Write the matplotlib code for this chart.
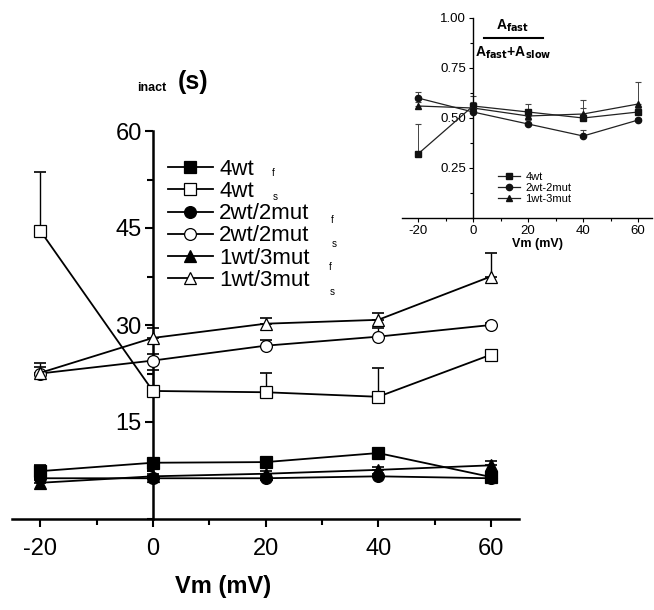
import numpy as np
from matplotlib import pyplot as plt
from matplotlib.ticker import MultipleLocator

plt.rcParams['font.family'] = ['Liberation Sans Narrow', 'Liberation Sans', 'DejaVu Sans']
plt.rcParams['axes.unicode_minus'] = False

# main panel: inactivation time constants
vm = [-20, 0, 20, 40, 60]
wt4_fast = [7.4, 8.7, 8.8, 10.2, 6.5]
wt4_fast_err = [1.0, 0.5, 0.4, 0.4, 0.3]
wt4_slow = [44.6, 19.8, 19.6, 18.9, 25.4]
wt4_slow_err = [9.0, 3.2, 3.0, 4.5, 0.6]
mut2_fast = [6.3, 6.3, 6.3, 6.6, 6.3]
mut2_fast_err = [0.3, 0.3, 0.3, 0.3, 0.3]
mut2_slow = [22.5, 24.5, 26.8, 28.2, 30.0]
mut2_slow_err = [1.0, 1.0, 0.9, 1.4, 0.3]
mut3_fast = [5.6, 6.6, 7.0, 7.6, 8.3]
mut3_fast_err = [0.4, 0.4, 0.4, 0.5, 0.6]
mut3_slow = [22.6, 28.0, 30.2, 30.8, 37.5]
mut3_slow_err = [1.5, 1.6, 0.9, 1.1, 3.7]
main_labels = ['4wt', '4wt', '2wt/2mut', '2wt/2mut', '1wt/3mut', '1wt/3mut']
main_subs = ['f', 's', 'f', 's', 'f', 's']

# inset: fraction of fast component
inset_vm = [-20, 0, 20, 40, 60]
frac_4wt = [0.32, 0.56, 0.53, 0.50, 0.53]
frac_4wt_err = [0.15, 0.05, 0.04, 0.05, 0.02]
frac_2mut = [0.60, 0.53, 0.47, 0.41, 0.49]
frac_2mut_err = [0.03, 0.02, 0.02, 0.03, 0.01]
frac_3mut = [0.56, 0.55, 0.51, 0.52, 0.57]
frac_3mut_err = [0.02, 0.03, 0.03, 0.07, 0.11]
inset_labels = ['4wt', '2wt-2mut', '1wt-3mut']

W, H = 654, 610
fig = plt.figure(figsize=(W / 100, H / 100), dpi=100)

def px(x0, y0, x1, y1):
    return [x0 / W, 1 - y1 / H, (x1 - x0) / W, (y1 - y0) / H]

ax = fig.add_axes(px(12, 131, 519, 519))
series = [
    (wt4_fast, wt4_fast_err, 's', 'k'),
    (wt4_slow, wt4_slow_err, 's', 'w'),
    (mut2_fast, mut2_fast_err, 'o', 'k'),
    (mut2_slow, mut2_slow_err, 'o', 'w'),
    (mut3_fast, mut3_fast_err, '^', 'k'),
    (mut3_slow, mut3_slow_err, '^', 'w'),
]
handles = []
for (vals, err, mk, fc), lab in zip(series, main_labels):
    ax.errorbar(vm, vals, yerr=[np.zeros(len(err)), err], fmt='none',
                ecolor='k', elinewidth=1.0, capsize=4, capthick=1.2, zorder=2)
    h, = ax.plot(vm, vals, color='k', lw=1.3, marker=mk, ms=8.5,
                 mfc=fc, mec='k', mew=0.9, zorder=3, label=lab)
    handles.append(h)

ax.set_xlim(-25, 65)
ax.set_ylim(0, 60)
for s in ['top', 'right']:
    ax.spines[s].set_visible(False)
ax.spines['left'].set_position(('data', 0))
ax.spines['left'].set_linewidth(1.8)
ax.spines['bottom'].set_linewidth(1.8)
ax.set_xticks([-20, 0, 20, 40, 60])
ax.set_yticks([15, 30, 45, 60])
ax.xaxis.set_minor_locator(MultipleLocator(10))
ax.yaxis.set_minor_locator(MultipleLocator(7.5))
ax.tick_params(which='major', direction='out', length=6, width=1.5, labelsize=17)
ax.tick_params(axis='x', which='major', pad=8)
ax.tick_params(axis='y', which='major', pad=2)
ax.tick_params(which='minor', direction='out', length=4, width=1.5)
ax.set_xlabel('Vm (mV)', fontsize=17, fontweight='bold')
ax.xaxis.set_label_coords(0.416, -0.145)

fig.text(152 / W, 1 - 88 / H, 'inact', fontsize=9, fontweight='bold', ha='center', va='center')
fig.text(193 / W, 1 - 82 / H, '(s)', fontsize=18, fontweight='bold', ha='center', va='center')

ax.legend(handles=handles, loc='upper left', bbox_to_anchor=(157 / W, 1 - 148 / H),
          bbox_transform=fig.transFigure, frameon=False, fontsize=16,
          handlelength=2.0, handletextpad=0.3, labelspacing=0.05, borderpad=0)
sub_pos = [(273, 173), (275, 197), (332, 220), (334, 244), (330, 267), (332, 292)]
for (x, y), t in zip(sub_pos, main_subs):
    fig.text(x / W, 1 - y / H, t, fontsize=7, ha='center', va='center')

# inset
axi = fig.add_axes(px(402, 18, 652, 218))
axi.patch.set_alpha(0)
inset_series = [
    (frac_4wt, frac_4wt_err, 's'),
    (frac_2mut, frac_2mut_err, 'o'),
    (frac_3mut, frac_3mut_err, '^'),
]
ih = []
for (vals, err, mk), lab in zip(inset_series, inset_labels):
    axi.errorbar(inset_vm, vals, yerr=[np.zeros(len(err)), err], fmt='none',
                 ecolor='#444444', elinewidth=0.7, capsize=2.5, capthick=0.8, zorder=2)
    h, = axi.plot(inset_vm, vals, color='#222222', lw=0.9, marker=mk, ms=4.5,
                  mfc='#111111', mec='#111111', zorder=3, label=lab)
    ih.append(h)
axi.set_xlim(-25.8, 65)
axi.set_ylim(0, 1.0)
for s in ['top', 'right']:
    axi.spines[s].set_visible(False)
axi.spines['left'].set_position(('data', 0))
axi.spines['left'].set_linewidth(1.0)
axi.spines['bottom'].set_linewidth(1.0)
axi.set_xticks([-20, 0, 20, 40, 60])
axi.set_yticks([0.25, 0.5, 0.75, 1.0])
axi.set_yticklabels(['0.25', '0.50', '0.75', '1.00'])
axi.xaxis.set_minor_locator(MultipleLocator(10))
axi.yaxis.set_minor_locator(MultipleLocator(0.125))
axi.tick_params(which='major', direction='out', length=3, width=0.8, labelsize=9.5, pad=2)
axi.tick_params(which='minor', direction='out', length=2, width=0.8)
axi.set_xlabel('Vm (mV)', fontsize=9, fontweight='bold')
axi.xaxis.set_label_coords((538 - 402) / 250, -0.1)
axi.legend(handles=ih, loc='upper left', bbox_to_anchor=(492 / W, 1 - 166 / H),
           bbox_transform=fig.transFigure, frameon=False, fontsize=8,
           handlelength=2.0, handletextpad=0.5, labelspacing=0.1, borderpad=0)

fig.text(513 / W, 1 - 26 / H, r'A$_\mathbf{fast}$', fontsize=10, fontweight='bold', ha='center', va='center')
fig.add_artist(plt.Line2D([484 / W, 543 / W], [1 - 38 / H, 1 - 38 / H], color='k', lw=1.5))
fig.text(513 / W, 1 - 53 / H, r'A$_\mathbf{fast}$+A$_\mathbf{slow}$', fontsize=10, fontweight='bold', ha='center', va='center')

plt.savefig('out.png', dpi=100)
